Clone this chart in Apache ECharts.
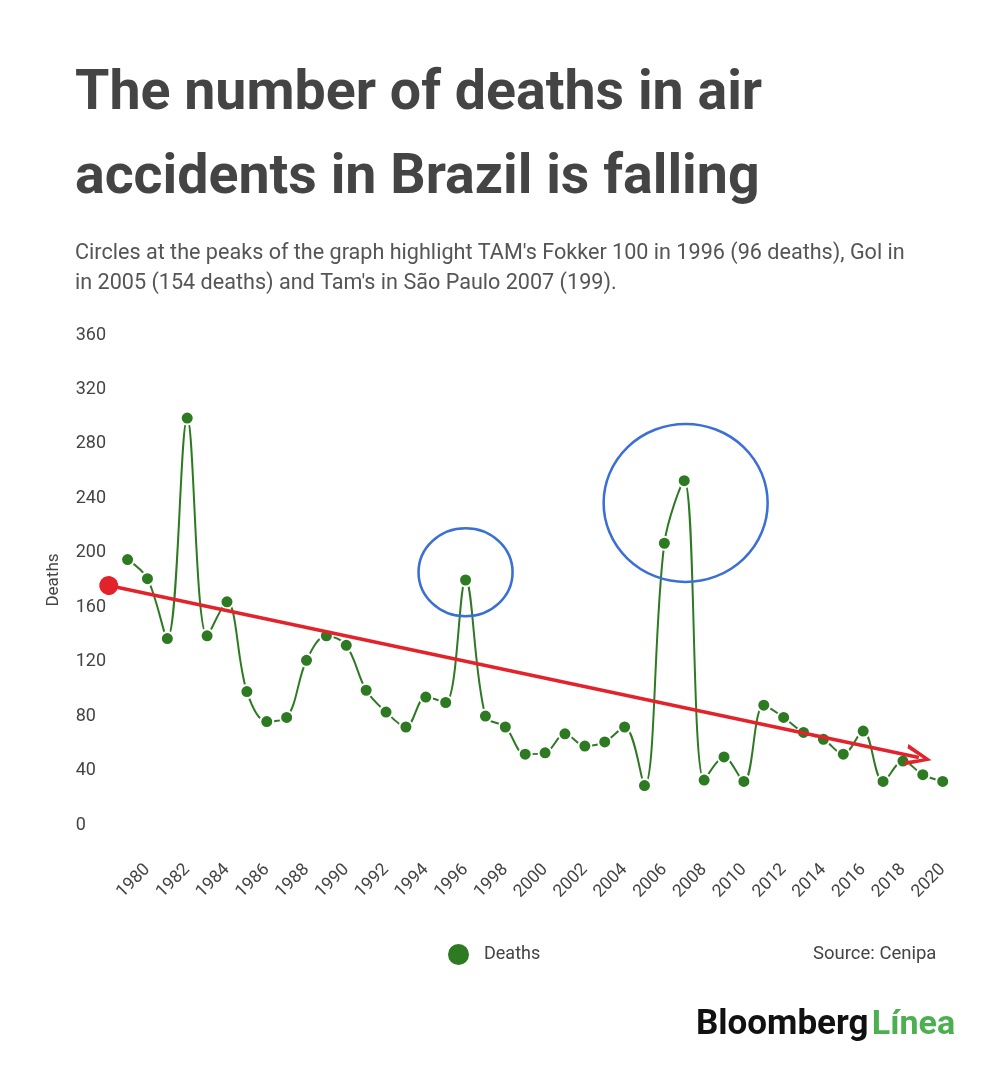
<!DOCTYPE html>
<html>
<head>
<meta charset="utf-8">
<title>Deaths in air accidents in Brazil</title>
<script src="https://cdn.jsdelivr.net/npm/echarts@6/dist/echarts.min.js"></script>
<style>
  html, body { margin: 0; padding: 0; background: #fff; }
  #chart { width: 1000px; height: 1067px; }
</style>
</head>
<body>
<div id="chart"></div>
<script>
// data
var years = [1979, 1980, 1981, 1982, 1983, 1984, 1985, 1986, 1987, 1988,
  1989, 1990, 1991, 1992, 1993, 1994, 1995, 1996, 1997, 1998,
  1999, 2000, 2001, 2002, 2003, 2004, 2005, 2006, 2007, 2008,
  2009, 2010, 2011, 2012, 2013, 2014, 2015, 2016, 2017, 2018,
  2019, 2020];
var deaths = [195, 181, 137, 299, 139, 164, 98, 76, 79, 121,
  139, 132, 99, 83, 72, 94, 90, 180, 80, 72,
  52, 53, 67, 58, 61, 72, 29, 207, 253, 33,
  50, 32, 88, 79, 68, 63, 52, 69, 32, 47,
  37, 32];
var yTicks = [0, 40, 80, 120, 160, 200, 240, 280, 320, 360];
// trend arrow (start, arrow-head centre) and highlight circles, in data units
var trendStart = [1978.05, 176];
var trendEnd = [2018.8, 49.6];
var circleSmall = [1996, 185.7];
var circleBig = [2007.07, 236.6];

var font = 'Roboto, "Noto Sans", sans-serif';
var dom = document.getElementById('chart');
var myChart = echarts.init(dom);

var points = years.map(function(y, i) { return [y, deaths[i]]; });
var chevron = 'path://M11,0 L22,26 L17.6,26 L11,8.5 L4.4,26 L0,26 Z';

var option = {
	backgroundColor: '#fff',
	animation: false,
	textStyle: { fontFamily: font },
	grid: {
		left: 107.7,
		right: 57.3,
		top: 335,
		bottom: 242,
		containLabel: false
	},
	legend: {
		data: ['Deaths'],
		left: 441,
		top: 937,
		icon: 'circle',
		itemWidth: 23,
		itemHeight: 23,
		textStyle: { fontSize: 18, color: '#444', fontFamily: font, padding: [0, 0, 0, 9] },
		selectedMode: false
	},
	xAxis: {
		type: 'value',
		min: 1978,
		max: 2020,
		interval: 2,
		axisLine: { show: false },
		axisTick: { show: false },
		splitLine: { show: false },
		axisLabel: {
			rotate: 45,
			fontSize: 17.5,
			color: '#444',
			margin: 42,
			showMinLabel: false,
			formatter: function(v) { return v >= 1980 && v <= 2020 ? String(v) : ''; }
		}
	},
	yAxis: {
		type: 'value',
		min: 0,
		max: 360,
		interval: 40,
		name: 'Deaths',
		nameLocation: 'middle',
		nameGap: 45,
		nameTextStyle: { fontSize: 17, color: '#444', fontFamily: font },
		axisLine: { show: false },
		axisTick: { show: false },
		splitLine: { show: false },
		axisLabel: {
			fontSize: 18,
			color: '#444',
			align: 'left',
			margin: 32,
			formatter: function(v) { return yTicks.indexOf(v) >= 0 ? String(v) : ''; }
		}
	},
	series: [{
		name: 'Deaths',
		type: 'line',
		data: points,
		smooth: 0.35,
		clip: false,
		symbol: 'circle',
		symbolSize: 13,
		lineStyle: { color: '#2d7a22', width: 2 },
		itemStyle: { color: '#2d7a22', borderColor: '#fff', borderWidth: 2 },
		emphasis: { disabled: true },
		markLine: {
			silent: true,
			label: { show: false },
			lineStyle: { color: '#e3232b', width: 3.5, type: 'solid' },
			itemStyle: { color: '#e3232b' },
			emphasis: { disabled: true },
			data: [[
				{ coord: trendStart, symbol: 'circle', symbolSize: 19 },
				{ coord: trendEnd, symbol: chevron, symbolSize: [22, 26] }
			]]
		},
		markPoint: {
			silent: true,
			symbol: 'circle',
			label: { show: false },
			itemStyle: { color: 'rgba(0,0,0,0)', borderColor: '#3b6fd6', borderWidth: 2.5 },
			data: [
				{ coord: circleSmall, symbolSize: [94, 88] },
				{ coord: circleBig, symbolSize: [164, 158] }
			]
		}
	}],
	graphic: [
		{ type: 'text', left: 75, top: 67, style: { text: 'The number of deaths in air', font: 'bold 55.5px ' + font, fill: '#444' } },
		{ type: 'text', left: 75, top: 151, style: { text: 'accidents in Brazil is falling', font: 'bold 55.5px ' + font, fill: '#444' } },
		{ type: 'text', left: 75, top: 243, style: { text: "Circles at the peaks of the graph highlight TAM's Fokker 100 in 1996 (96 deaths), Gol in", font: '21.6px ' + font, fill: '#555' } },
		{ type: 'text', left: 75, top: 273, style: { text: "in 2005 (154 deaths) and Tam's in São Paulo 2007 (199).", font: '21.6px ' + font, fill: '#555' } },
		{ type: 'text', left: 813, top: 945, style: { text: 'Source: Cenipa', font: '18.5px ' + font, fill: '#444' } },
		{ type: 'text', left: 696, top: 1008, style: {
			text: '{b|Bloomberg} {l|Línea}',
			rich: {
				b: { fontSize: 35, fontWeight: 'bold', fill: '#111', fontFamily: font },
				l: { fontSize: 34, fontWeight: 'bold', fill: '#4caf50', fontFamily: font }
			}
		} }
	]
};

if (option && typeof option === 'object') {
	myChart.setOption(option, true);
}
</script>
</body>
</html>
